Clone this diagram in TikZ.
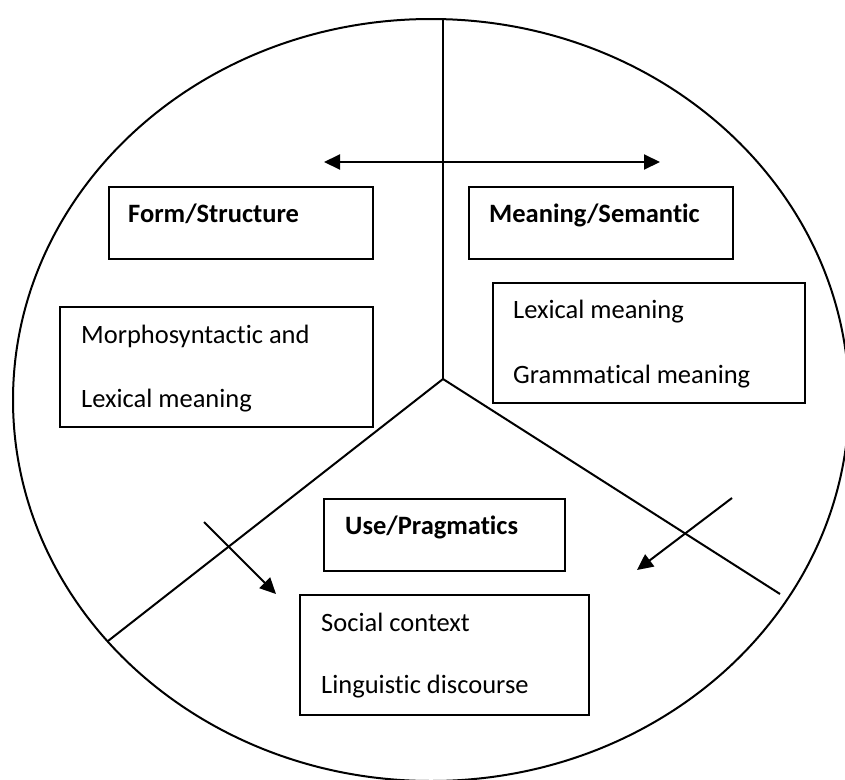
\documentclass[tikz,border=0pt]{standalone}
\usepackage{fontspec}
\setmainfont{Carlito}[Ligatures=NoCommon]
\usetikzlibrary{arrows.meta}
\begin{document}
\begin{tikzpicture}[x=1pt,y=-1pt,
  ln/.style={line width=2pt},
  boxnode/.style={draw,line width=2pt,anchor=north west,inner sep=0pt},
  lbl/.style={anchor=base west,inner sep=0pt,font=\fontsize{26.5}{31}\selectfont},
  blbl/.style={lbl,font=\fontsize{26.5}{31}\selectfont\bfseries},
  arr/.style={line width=2pt,-{Triangle[length=16pt,width=15pt]}},
  darr/.style={line width=2pt,{Triangle[length=16pt,width=15pt]}-{Triangle[length=16pt,width=15pt]}}]
\useasboundingbox (0,0) rectangle (845,779);
% circle
\draw[ln] (431,400) ellipse [x radius=418, y radius=381];
% dividing lines
\coordinate (top) at (443,19);
\coordinate (j) at (443,379);
\coordinate (lend) at (108,641);
\coordinate (rend) at (780,594);
\draw[ln] (top) -- (j);
\draw[ln] (j) -- (lend);
\draw[ln] (j) -- (rend);
% boxes
\node[boxnode,minimum width=264pt,minimum height=72pt] (formbox) at (108,186) {};
\node[boxnode,minimum width=264pt,minimum height=72pt] (meanbox) at (468,186) {};
\node[boxnode,minimum width=313pt,minimum height=120pt] (morphbox) at (59,306) {};
\node[boxnode,minimum width=312pt,minimum height=120pt] (lexbox) at (492,282) {};
\node[boxnode,minimum width=241pt,minimum height=72pt] (usebox) at (323,498) {};
\node[boxnode,minimum width=289pt,minimum height=120pt] (socbox) at (299,594) {};
% texts
\node[blbl] (formt) at (128,222) {Form/Structure};
\node[blbl] (meant) at (489,222) {Meaning/Semantic};
\node[lbl] (morph1) at (81,343) {Morphosyntactic and};
\node[lbl] (morph2) at (81,407) {Lexical meaning};
\node[lbl] (lex1) at (513,318) {Lexical meaning};
\node[lbl] (lex2) at (513,383) {Grammatical meaning};
\node[blbl] (uset) at (345,534) {Use/Pragmatics};
\node[lbl] (soc1) at (321,631) {Social context};
\node[lbl] (soc2) at (321,693) {Linguistic discourse};
% arrows
\coordinate (dl) at (324,162);
\coordinate (dr) at (660,162);
\draw[darr] (dl) -- (dr);
\coordinate (la0) at (204,522);
\coordinate (la1) at (276,594);
\draw[arr] (la0) -- (la1);
\coordinate (ra0) at (732,498);
\coordinate (ra1) at (637,570);
\draw[arr] (ra0) -- (ra1);
\end{tikzpicture}
\end{document}
